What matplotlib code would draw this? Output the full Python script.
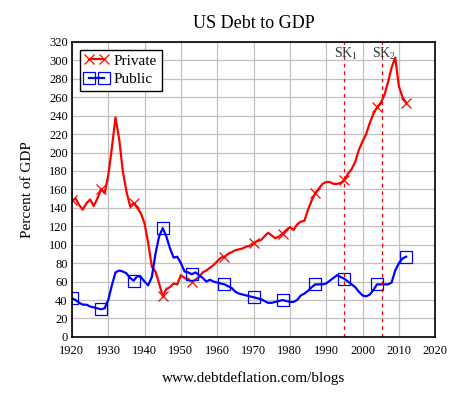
import numpy as np
import matplotlib
matplotlib.use("Agg")
import matplotlib.pyplot as plt

years = np.arange(1920, 2013)

private = [148, 150, 143, 138, 145, 149, 142, 150, 160, 156,
           175, 205, 238, 215, 180, 158, 142, 145, 140, 134,
           123, 102, 76, 71, 58, 44, 52, 54, 58, 57,
           67, 64, 62, 60, 62, 65, 70, 72, 75, 78,
           82, 86, 87, 90, 92, 94, 95, 96, 98, 99,
           102, 104, 105, 109, 113, 110, 107, 109, 112, 116,
           119, 116, 122, 125, 126, 138, 148, 156, 161, 166,
           168, 168, 166, 166, 167, 170, 177, 182, 190, 203,
           212, 220, 232, 242, 249, 254, 262, 276, 292, 303,
           272, 260, 254]

public = [42, 40, 37, 35, 35, 33, 32, 31, 30, 31,
          40, 56, 70, 72, 71, 69, 64, 61, 66, 65,
          60, 56, 65, 90, 109, 118, 109, 96, 86, 87,
          80, 71, 70, 68, 70, 67, 64, 60, 62, 60,
          59, 58, 57, 55, 53, 49, 47, 46, 45, 44,
          43, 42, 41, 39, 37, 37, 38, 39, 40, 39,
          38, 38, 40, 45, 47, 50, 54, 57, 57, 57,
          58, 61, 64, 67, 65, 63, 60, 57, 54, 49,
          45, 44, 46, 51, 57, 57, 57, 57, 59, 72,
          80, 85, 87]

marker_years = [1920, 1928, 1937, 1945, 1953, 1962, 1970, 1978, 1987, 1995, 2004, 2012]
marker_idx = [y - 1920 for y in marker_years]

sk_years = [1994.8, 2005.3]
sk_labels = ["SK$_1$", "SK$_2$"]

plt.rcParams['font.family'] = ['Liberation Serif', 'DejaVu Serif']
plt.rcParams['mathtext.fontset'] = 'custom'
plt.rcParams['mathtext.rm'] = 'Liberation Serif'
plt.rcParams['mathtext.it'] = 'Liberation Serif'

fig = plt.figure(figsize=(4.61, 3.95), dpi=100)
ax = fig.add_axes([0.156, 0.147, 0.788, 0.747])

ax.plot(years, private, color='red', lw=1.6, marker='x', markersize=7.5,
        markeredgewidth=0.9, markevery=marker_idx, label='Private')
ax.plot(years, public, color='blue', lw=1.6, marker='s', markersize=9,
        markerfacecolor='none', markeredgewidth=0.9, markevery=marker_idx,
        label='Public')

for x, lab in zip(sk_years, sk_labels):
    ax.axvline(x, color='red', ls=(0, (3, 3)), lw=0.9)
    ax.text(x + 0.6, 316, lab, ha='center', va='top', fontsize=10, color='#333333')

ax.set_xlim(1920, 2020)
ax.set_ylim(0, 320)
ax.set_xticks(np.arange(1920, 2021, 10))
ax.set_yticks(np.arange(0, 321, 20))
ax.grid(True, color='#c0c0c0', lw=0.9)
ax.set_axisbelow(True)
ax.tick_params(length=0, labelsize=9)
ax.tick_params(axis='x', pad=6)
ax.tick_params(axis='y', pad=3)
for s in ax.spines.values():
    s.set_linewidth(1.2)

ax.set_title('US Debt to GDP', fontsize=13, pad=10)
ax.set_ylabel('Percent of GDP', fontsize=11, labelpad=11)
ax.set_xlabel('www.debtdeflation.com/blogs', fontsize=11, labelpad=10)

leg = ax.legend(loc='upper left', fontsize=11, numpoints=2, fancybox=False,
                edgecolor='black', framealpha=1, borderpad=0.3,
                handlelength=1.6, handletextpad=0.35, labelspacing=0.3,
                borderaxespad=0.5, bbox_to_anchor=(0.0, 1.0))
leg.get_frame().set_linewidth(1.0)

fig.savefig('out.png', dpi=100)
